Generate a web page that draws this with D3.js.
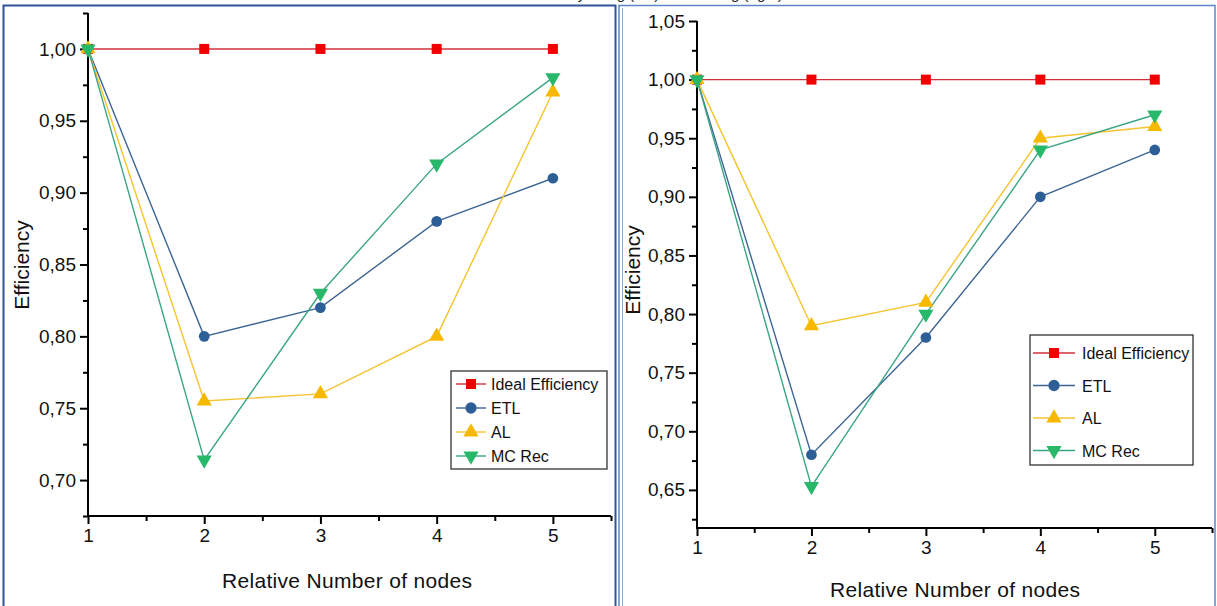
<!DOCTYPE html>
<html><head><meta charset="utf-8">
<script src="https://cdn.jsdelivr.net/npm/d3@7"></script>
<style>body{margin:0;background:#fff;}svg{display:block;}text{font-family:"Liberation Sans",Arial,sans-serif;}</style>
</head><body>
<svg id="c" width="1217" height="606"></svg>
<script>
// ---- data ----
const nodes = [1, 2, 3, 4, 5];
const seriesNames = ["Ideal Efficiency", "ETL", "AL", "MC Rec"];
// left chart
const leftIdeal = [1.00, 1.00, 1.00, 1.00, 1.00];
const leftETL   = [1.00, 0.80, 0.82, 0.88, 0.91];
const leftAL    = [1.00, 0.755, 0.76, 0.80, 0.97];
const leftMC    = [1.00, 0.714, 0.83, 0.92, 0.98];
const leftYTicks = [0.70, 0.75, 0.80, 0.85, 0.90, 0.95, 1.00];
// right chart
const rightIdeal = [1.00, 1.00, 1.00, 1.00, 1.00];
const rightETL   = [1.00, 0.68, 0.78, 0.90, 0.94];
const rightAL    = [1.00, 0.79, 0.81, 0.95, 0.96];
const rightMC    = [1.00, 0.653, 0.80, 0.94, 0.97];
const rightYTicks = [0.65, 0.70, 0.75, 0.80, 0.85, 0.90, 0.95, 1.00, 1.05];
const xTicks = [1, 2, 3, 4, 5];
const xTitle = "Relative Number of nodes";
const yTitle = "Efficiency";

const lineColors = ["#d0303a", "#3d6594", "#f5c430", "#3aa585"];
const markColors = ["#f00000", "#2d5e96", "#f7b800", "#27b86a"];
const markShapes = [d3.symbolSquare, d3.symbolCircle, d3.symbolTriangle, "down"];

const svg = d3.select("#c");
const fmt = d => d.toFixed(2).replace(".", ",");

// panel borders
svg.append("rect").attr("x", 3.5).attr("y", 5.5).attr("width", 612).attr("height", 610)
  .attr("fill", "none").attr("stroke", "#2f5597").attr("stroke-width", 2);
svg.append("rect").attr("x", 619).attr("y", 5.5).attr("width", 596).attr("height", 610)
  .attr("fill", "none").attr("stroke", "#5b86c9").attr("stroke-width", 1.5);
svg.append("line").attr("x1", 622.5).attr("x2", 622.5).attr("y1", 8).attr("y2", 606)
  .attr("stroke", "#8eaadb").attr("stroke-width", 1);

// caption at top, cut off by the page edge as in the reference
svg.append("text").attr("x", 652).attr("y", -1).attr("text-anchor", "middle")
  .attr("font-size", 15).attr("fill", "#222")
  .text("Efficiency using (left) and scaling (right)");

function markerPath(shape, size) {
  if (shape === "down") return d3.symbol(d3.symbolTriangle, size)();
  return d3.symbol(shape, size)();
}

function drawPanel(cfg) {
  const g = svg.append("g");
  const x = d3.scaleLinear().domain([1, 5.5]).range(cfg.xRange);
  const y = d3.scaleLinear().domain(cfg.yDomain).range(cfg.yRange);
  const x0 = cfg.xRange[0], yb = cfg.yRange[0];

  const yAxis = d3.axisLeft(y).tickValues(cfg.yTicks).tickFormat(fmt).tickSize(8).tickPadding(4);
  const yMinor = d3.axisLeft(y).tickValues(cfg.yTicks.map(v => v - 0.025).concat([cfg.yTicks[cfg.yTicks.length-1] + 0.025]).filter(v => v >= cfg.yDomain[0] - 1e-9 && v <= cfg.yDomain[1] + 1e-9)).tickFormat("").tickSize(5);
  const xAxis = d3.axisBottom(x).tickValues(xTicks).tickFormat(d3.format("d")).tickSize(8).tickPadding(5);
  const xMinor = d3.axisBottom(x).tickValues([1.5, 2.5, 3.5, 4.5, 5.5]).tickFormat("").tickSize(5);

  const gy = g.append("g").attr("transform", `translate(${x0},0)`).call(yAxis);
  g.append("g").attr("transform", `translate(${x0},0)`).call(yMinor).select(".domain").remove();
  const gx = g.append("g").attr("transform", `translate(0,${yb})`).call(xAxis);
  g.append("g").attr("transform", `translate(0,${yb})`).call(xMinor).select(".domain").remove();
  g.selectAll(".tick line").attr("stroke", "#000").attr("stroke-width", 2);
  gy.selectAll(".tick text").attr("font-size", 19).attr("fill", "#111")
    .attr("font-family", "Liberation Sans, Arial, sans-serif");
  gx.selectAll(".tick text").attr("font-size", 19).attr("fill", "#111")
    .attr("font-family", "Liberation Sans, Arial, sans-serif");
  g.selectAll(".domain").remove();
  g.append("line").attr("x1", x0).attr("x2", x0).attr("y1", cfg.yRange[1]).attr("y2", yb + 1)
    .attr("stroke", "#000").attr("stroke-width", 2);
  g.append("line").attr("x1", x0 - 1).attr("x2", cfg.xRange[1]).attr("y1", yb).attr("y2", yb)
    .attr("stroke", "#000").attr("stroke-width", 2);

  g.append("text").attr("x", cfg.xTitlePos[0]).attr("y", cfg.xTitlePos[1]).attr("text-anchor", "middle")
    .attr("font-size", 21).attr("fill", "#111").attr("textLength", 250).text(xTitle);
  g.append("text").attr("transform", `translate(${cfg.yTitlePos[0]},${cfg.yTitlePos[1]}) rotate(-90)`)
    .attr("text-anchor", "middle").attr("font-size", 21).attr("fill", "#111").text(yTitle);

  const line = d3.line().x((d, i) => x(nodes[i])).y(d => y(d));
  cfg.series.forEach((vals, si) => {
    g.append("path").attr("d", line(vals)).attr("fill", "none")
      .attr("stroke", lineColors[si]).attr("stroke-width", 1.4);
  });
  cfg.series.forEach((vals, si) => {
    const size = si === 1 ? 90 : 100;
    g.selectAll(null).data(vals).enter().append("path")
      .attr("d", markerPath(markShapes[si], size))
      .attr("transform", (d, i) => `translate(${x(nodes[i])},${y(d)})${markShapes[si] === "down" ? " rotate(180)" : ""}`)
      .attr("fill", markColors[si]);
  });

  const L = cfg.legend;
  g.append("rect").attr("x", L.x).attr("y", L.y).attr("width", L.w).attr("height", L.h)
    .attr("fill", "#fff").attr("stroke", "#222").attr("stroke-width", 1.2);
  seriesNames.forEach((name, si) => {
    const ry = L.y + L.first + si * L.step;
    g.append("line").attr("x1", L.x + L.l0).attr("x2", L.x + L.l1).attr("y1", ry).attr("y2", ry)
      .attr("stroke", lineColors[si]).attr("stroke-width", 1.4);
    g.append("path").attr("d", markerPath(markShapes[si], 100))
      .attr("transform", `translate(${L.x + (L.l0 + L.l1) / 2},${ry})${markShapes[si] === "down" ? " rotate(180)" : ""}`)
      .attr("fill", markColors[si]);
    g.append("text").attr("x", L.x + L.tx).attr("y", ry + 6).attr("font-size", L.fs)
      .attr("fill", "#111").text(name);
  });
}

drawPanel({
  xRange: [88, 611], yDomain: [0.675, 1.025], yRange: [516, 13],
  yTicks: leftYTicks,
  series: [leftIdeal, leftETL, leftAL, leftMC],
  xTitlePos: [347, 588], yTitlePos: [29, 265],
  legend: { x: 451, y: 371, w: 156, h: 98, first: 13, step: 24, l0: 5, l1: 35, tx: 40, fs: 16 }
});
drawPanel({
  xRange: [697, 1212], yDomain: [0.6175, 1.05], yRange: [528, 21],
  yTicks: rightYTicks,
  series: [rightIdeal, rightETL, rightAL, rightMC],
  xTitlePos: [955, 597], yTitlePos: [640, 270],
  legend: { x: 1030, y: 335, w: 163, h: 130, first: 18, step: 32.5, l0: 3, l1: 45, tx: 52, fs: 16 }
});
</script>
</body></html>
